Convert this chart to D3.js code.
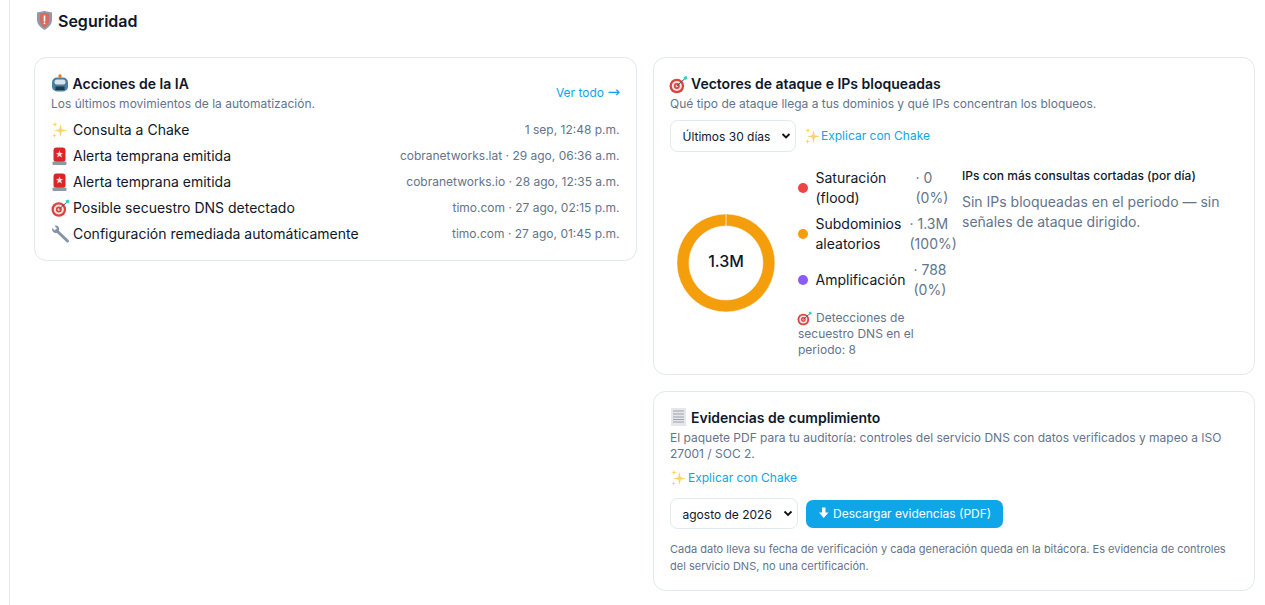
<!DOCTYPE html>
<html>
<head>
<meta charset="utf-8" />
<title>Seguridad</title>
<style>
html, body { margin: 0; padding: 0; background: #fff; overflow: hidden; }
svg { display: block; font-family: Inter, "Noto Sans", sans-serif; }
text { fill: #0f172a; }
.muted { fill: #64748b; }
.link { fill: #0ea5e9; }
.card { fill: #fff; stroke: #e2e8f0; stroke-width: 1px; }
.head { font-size: 14px; font-weight: 600; }
.sub { font-size: 12px; }
.field { fill: #fff; stroke: #e2e8f0; stroke-width: 1px; }
</style>
</head>
<body>
<script src="https://d3js.org/d3.v7.min.js"></script>
<script>
// page text
var pageTitle = "Seguridad";

// ai actions
var actionLabels = ["Consulta a Chake", "Alerta temprana emitida", "Alerta temprana emitida", "Posible secuestro DNS detectado", "Configuración remediada automáticamente"];
var actionMeta = ["1 sep, 12:48 p.m.", "cobranetworks.lat · 29 ago, 06:36 a.m.", "cobranetworks.io · 28 ago, 12:35 a.m.", "timo.com · 27 ago, 02:15 p.m.", "timo.com · 27 ago, 01:45 p.m."];
var actionIcons = ["sparkle", "siren", "siren", "target", "wrench"];

// attack vectors
var vectorNames = [["Saturación", "(flood)"], ["Subdominios", "aleatorios"], ["Amplificación"]];
var vectorValues = [0, 1300000, 788];
var vectorValueLabels = [["· 0", "(0%)"], ["· 1.3M", "(100%)"], ["· 788", "(0%)"]];
var vectorColors = ["#ef4444", "#f59e0b", "#8b5cf6"];
var hijackNote = ["Detecciones de", "secuestro DNS en el", "periodo: 8"];

var width = 1265,
    height = 605;

var svg = d3.select("body").append("svg")
    .attr("width", width)
    .attr("height", height);

svg.append("line").attr("x1", 9.5).attr("x2", 9.5).attr("y1", 0).attr("y2", height)
    .style("stroke", "#e2e8f0");

//=====================
// small helpers
//=====================
function label(x, y, str, cls, size, anchor) {
  return svg.append("text")
    .attr("x", x).attr("y", y)
    .attr("class", cls || null)
    .style("font-size", size ? size + "px" : null)
    .attr("text-anchor", anchor || "start")
    .text(str);
}

function card(x, y, w, h) {
  svg.append("rect").attr("class", "card")
    .attr("x", x).attr("y", y).attr("width", w).attr("height", h)
    .attr("rx", 12);
}

function select(x, y, w, h, str) {
  svg.append("rect").attr("class", "field")
    .attr("x", x).attr("y", y).attr("width", w).attr("height", h).attr("rx", 7);
  label(x + 12, y + 20.5, str, null, 12);
  svg.append("path")
    .attr("d", "M" + (x + w - 13) + "," + (y + h / 2 - 2) + "l3.5,3.5l3.5,-3.5")
    .style("fill", "none").style("stroke", "#111").style("stroke-width", 1.8);
}

// the emoji are drawn by hand, no colour emoji font on the box
var icons = {
  sparkle: function(g) {
    [[9, 9, 6.5, "#fbd46a"], [3.5, 3, 3, "#fcd34d"], [3, 14, 2.4, "#fcd34d"]].forEach(function(s) {
      var x = s[0], y = s[1], r = s[2], k = r * 0.2;
      g.append("path").style("fill", s[3])
        .attr("d", "M" + x + "," + (y - r) + "L" + (x + k) + "," + (y - k) + "L" + (x + r) + "," + y + "L" + (x + k) + "," + (y + k)
          + "L" + x + "," + (y + r) + "L" + (x - k) + "," + (y + k) + "L" + (x - r) + "," + y + "L" + (x - k) + "," + (y - k) + "Z");
    });
  },
  siren: function(g) {
    g.append("rect").attr("x", 2).attr("y", 0).attr("width", 12).attr("height", 14.5).attr("rx", 3).style("fill", "#dc2626");
    g.append("rect").attr("x", 1).attr("y", 14).attr("width", 14).attr("height", 3.5).attr("rx", 1).style("fill", "#8e99a6");
    g.append("path").attr("d", "M8,3L9,5.5L11.5,5.5L9.5,7.3L10.5,10L8,8.5L5.5,10L6.5,7.3L4.5,5.5L7,5.5Z").style("fill", "#fee2e2");
  },
  target: function(g) {
    [[7.3, "#d9443c"], [5, "#f8e3e0"], [3, "#d9443c"], [1.2, "#f8e3e0"]].forEach(function(c) {
      g.append("circle").attr("cx", 7.3).attr("cy", 10).attr("r", c[0]).style("fill", c[1]);
    });
    g.append("line").attr("x1", 7.3).attr("y1", 10).attr("x2", 15.5).attr("y2", 2.5).style("stroke", "#475569").style("stroke-width", 1);
    g.append("path").attr("d", "M14,1L17,0L18,3L15,4Z").style("fill", "#2dd4bf");
  },
  wrench: function(g) {
    g.append("line").attr("x1", 5).attr("y1", 5).attr("x2", 16).attr("y2", 15.5)
      .style("stroke", "#8494a6").style("stroke-width", 3).style("stroke-linecap", "round");
    g.append("path").attr("d", "M0.5,2.5L3.5,5L5.5,3L3,0.3C6,-0.6 8.5,2 7.5,5L5.5,7.5C3,8 0,6 0.5,2.5Z").style("fill", "#8494a6");
  },
  robot: function(g) {
    g.append("circle").attr("cx", 8.5).attr("cy", 1.5).attr("r", 1.7).style("fill", "#f97316");
    g.append("rect").attr("x", 0.5).attr("y", 3).attr("width", 16).attr("height", 14).attr("rx", 5).style("fill", "#4b7f9c");
    g.append("rect").attr("x", 3).attr("y", 5).attr("width", 11).attr("height", 5).attr("rx", 2.5).style("fill", "#d6e4ec");
    g.append("rect").attr("x", 4).attr("y", 12).attr("width", 9).attr("height", 3.5).style("fill", "#1f3b4d");
  },
  shield: function(g) {
    g.append("path").attr("d", "M0,1.5L7.5,0L15,1.5L15,9C15,14 10,17.5 7.5,19C5,17.5 0,14 0,9Z").style("fill", "#8e9aa6");
    g.append("path").attr("d", "M3,3L7.5,1.8L12,3L12,9C12,13 9.5,15.3 7.5,16.8C5.5,15.3 3,13 3,9Z").style("fill", "#d9685f");
    g.append("rect").attr("x", 6.7).attr("y", 4.5).attr("width", 1.6).attr("height", 6).style("fill", "#fff");
    g.append("rect").attr("x", 6.7).attr("y", 11.5).attr("width", 1.6).attr("height", 1.6).style("fill", "#fff");
  },
  receipt: function(g) {
    g.append("rect").attr("x", 0).attr("y", 0).attr("width", 15).attr("height", 18).style("fill", "#e5e7eb");
    [2.5, 5.5, 8.5, 11, 13.5].forEach(function(y) {
      g.append("rect").attr("x", 2).attr("y", y).attr("width", 11).attr("height", 1).style("fill", "#9ca3af");
    });
  }
};

function icon(name, x, y, k) {
  var g = svg.append("g").attr("transform", "translate(" + x + "," + y + ") scale(" + (k || 1) + ")");
  icons[name](g);
}

//=====================
// header
//=====================
icon("shield", 37, 11);
label(58, 27, pageTitle, null, 16).style("font-weight", 600);

//=====================
// acciones de la IA
//=====================
card(34.5, 57.5, 602, 203);
icon("robot", 51.5, 74.5);
label(72.5, 89, "Acciones de la IA", "head");
label(51, 108, "Los últimos movimientos de la automatización.", "muted sub");
var verTodo = label(620, 97, "Ver todo ", "link sub", null, "end");
verTodo.append("tspan").style("font-family", "'DejaVu Sans'").style("font-size", "15px").text("→");

var rowY = d3.scalePoint().domain(d3.range(actionLabels.length)).range([135, 239]);

actionLabels.forEach(function(d, i) {
  icon(actionIcons[i], 51.5, rowY(i) - 13.5);
  label(73, rowY(i), d, null, 14);
  label(619.5, rowY(i) - 1, actionMeta[i], "muted sub", null, "end");
});

//=====================
// vectores de ataque
//=====================
card(653.5, 57.5, 601, 317);
icon("target", 669.5, 76);
label(691, 89, "Vectores de ataque e IPs bloqueadas", "head");
label(670, 108, "Qué tipo de ataque llega a tus dominios y qué IPs concentran los bloqueos.", "muted sub");
select(670.5, 120.5, 125, 31, "Últimos 30 días");
icon("sparkle", 804.5, 127.5);
label(821, 140, "Explicar con Chake", "link sub");

var pie = d3.pie().sort(null).value(function(d) { return d; });
var arc = d3.arc().innerRadius(37).outerRadius(49);

svg.append("g")
    .attr("transform", "translate(726,263)")
  .selectAll("path")
  .data(pie(vectorValues))
  .enter()
  .append("path")
    .attr("d", arc)
    .style("fill", function(d, i) { return vectorColors[i]; })
    .style("stroke", "#fff")
    .style("stroke-width", function(d) { return d.value > 1000 ? 0.5 : 0; });

label(726, 267, "1.3M", null, 16, "middle").style("font-weight", 500);

var legendY = [188, 234, 280],
    valueX = [916, 910, 914];

vectorNames.forEach(function(name, i) {
  var y = legendY[i];
  svg.append("circle").attr("cx", 803).attr("cy", y).attr("r", 5).style("fill", vectorColors[i]);
  name.forEach(function(line, j) {
    label(815.5, y + 5 + (j - (name.length - 1) / 2) * 20, line, null, 14);
  });
  vectorValueLabels[i].forEach(function(line, j) {
    label(valueX[i] - 0.5, y + 5 + (j - 0.5) * 20, line, "muted", 14);
  });
});

icon("target", 797.5, 311.5, 0.8);
label(816, 322, hijackNote[0], "muted sub");
label(798, 338, hijackNote[1], "muted sub");
label(798, 354, hijackNote[2], "muted sub");

label(962, 180, "IPs con más consultas cortadas (por día)", "sub").style("font-weight", 500);
label(962, 207, "Sin IPs bloqueadas en el periodo — sin", "muted", 14);
label(962, 227, "señales de ataque dirigido.", "muted", 14);

//=====================
// evidencias
//=====================
card(653.5, 391.5, 601, 199);
icon("receipt", 671, 408);
label(691, 423, "Evidencias de cumplimiento", "head");
label(670, 442, "El paquete PDF para tu auditoría: controles del servicio DNS con datos verificados y mapeo a ISO", "muted sub");
label(670, 458, "27001 / SOC 2.", "muted sub");
icon("sparkle", 670.5, 469.5);
label(688, 482, "Explicar con Chake", "link sub");
select(670.5, 498.5, 127, 30, "agosto de 2026");

svg.append("rect").attr("x", 806).attr("y", 500).attr("width", 197).attr("height", 28).attr("rx", 7)
    .style("fill", "#0ea5e9");
svg.append("path").attr("d", "M822,507.5h3.5v5h3l-4.75,5.5l-4.75,-5.5h3Z").style("fill", "#fff");
label(833, 518, "Descargar evidencias (PDF)", null, 12).style("fill", "#fff");

label(670, 553, "Cada dato lleva su fecha de verificación y cada generación queda en la bitácora. Es evidencia de controles", "muted", 11);
label(670, 570, "del servicio DNS, no una certificación.", "muted", 11);
</script>
</body>
</html>
